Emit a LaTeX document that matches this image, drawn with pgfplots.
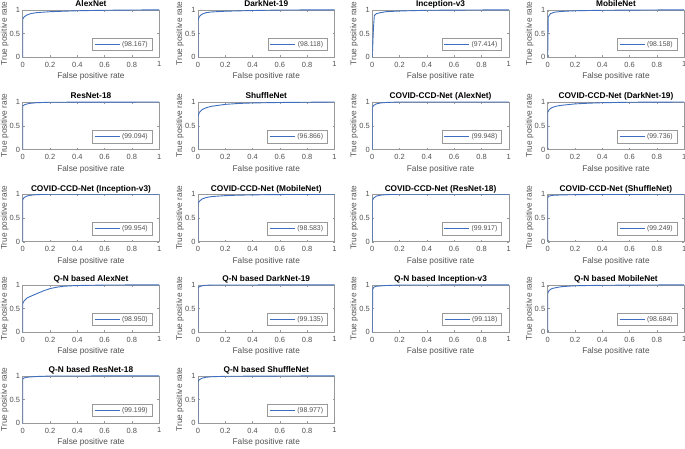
\documentclass[border=0pt]{standalone}
\usepackage{fontspec}
\setmainfont{Liberation Sans}
\usepackage{pgfplots}
\pgfplotsset{compat=1.18}
\definecolor{mblue}{RGB}{62,110,192}
\definecolor{framegray}{gray}{0.6}
\definecolor{txtgray}{gray}{0.32}
\pgfplotsset{
  roc/.style={
    scale only axis, width=136.5pt, height=47.5pt, anchor=south west,
    xmin=0, xmax=1, ymin=0, ymax=1,
    xtick={0,0.2,0.4,0.6,0.8,1}, ytick={0,0.5,1},
    xticklabels={0,0.2,0.4,0.6,0.8,1}, yticklabels={0,0.5,1},
    /pgf/number format/assume math mode=true,
    tick align=inside, major tick length=2pt,
    axis line style={framegray, line width=0.5pt}, tick style={framegray, line width=0.4pt},
    tick label style={font=\fontsize{7.5}{8}\selectfont, text=txtgray},
    xticklabel style={yshift=-1pt},
    yticklabel style={xshift=1pt},
    xlabel={False positive rate}, ylabel={True positive rate},
    every axis x label/.style={at={(axis description cs:0.5,0)}, anchor=center, yshift=-19.4pt, font=\fontsize{8.3}{9}\selectfont, text=txtgray},
    every axis y label/.style={at={(axis description cs:0,0.5)}, xshift=-18pt, rotate=90, anchor=center, font=\fontsize{8.3}{9}\selectfont, text=txtgray},
    every axis title shift=0pt,
    title style={at={(axis description cs:0.5,1)}, anchor=base, yshift=3pt, font=\bfseries\fontsize{8.3}{9}\selectfont},
    legend style={at={(rel axis cs:0.947,0.138)}, anchor=south east, draw=framegray, line width=0.4pt,
      font=\fontsize{6.9}{8}\selectfont, text=txtgray, inner xsep=2pt, inner ysep=1pt},
    legend image code/.code={\draw[#1] (0pt,0pt) -- (25pt,0pt);},
  },
  roccurve/.style={mblue, line width=0.9pt, no marks},
}
\newcommand{\roc}[5]{%
\begin{axis}[roc, at={(#1pt,#2pt)}, title={#3}]
\addplot[roccurve] coordinates {#5};
\addlegendentry{(#4)}
\end{axis}}
\begin{document}
\begin{tikzpicture}
\useasboundingbox (0,0) rectangle (685pt,448pt);
% row 1
\roc{22.7}{390.7}{AlexNet}{98.167}{(0,0) (0,0.80) (0.01,0.85) (0.03,0.89) (0.06,0.92) (0.1,0.94) (0.2,0.96) (0.4,0.98) (0.6,0.99) (1,1)}
\roc{198}{390.7}{DarkNet-19}{98.118}{(0,0) (0,0.78) (0.01,0.86) (0.03,0.91) (0.06,0.94) (0.1,0.955) (0.2,0.97) (0.4,0.985) (0.6,0.995) (1,1)}
\roc{372.3}{390.7}{Inception-v3}{97.414}{(0,0) (0.008,0.6) (0.015,0.88) (0.03,0.92) (0.06,0.94) (0.1,0.96) (0.2,0.975) (0.4,0.99) (1,1)}
\roc{547.7}{390.7}{MobileNet}{98.158}{(0,0) (0.004,0.85) (0.02,0.92) (0.05,0.95) (0.1,0.965) (0.2,0.98) (0.4,0.99) (1,1)}
% row 2
\roc{22.7}{298.5}{ResNet-18}{99.094}{(0,0) (0,0.92) (0.02,0.95) (0.05,0.97) (0.1,0.985) (0.2,0.995) (1,1)}
\roc{198}{298.5}{ShuffleNet}{96.866}{(0,0) (0,0.70) (0.01,0.78) (0.03,0.84) (0.06,0.88) (0.1,0.91) (0.2,0.95) (0.3,0.97) (0.4,0.98) (0.6,0.99) (1,1)}
\roc{372.3}{298.5}{COVID-CCD-Net (AlexNet)}{99.948}{(0,0) (0,0.88) (0.01,0.93) (0.03,0.96) (0.06,0.98) (0.1,0.99) (0.2,1) (1,1)}
\roc{547.7}{298.5}{COVID-CCD-Net (DarkNet-19)}{99.736}{(0,0) (0,0.78) (0.01,0.84) (0.03,0.88) (0.06,0.91) (0.1,0.93) (0.2,0.96) (0.3,0.975) (0.4,0.985) (0.6,0.995) (1,1)}
% row 3
\roc{22.7}{206.3}{COVID-CCD-Net (Inception-v3)}{99.954}{(0,0) (0,0.88) (0.01,0.93) (0.03,0.96) (0.06,0.98) (0.1,0.99) (0.2,1) (1,1)}
\roc{198}{206.3}{COVID-CCD-Net (MobileNet)}{98.583}{(0,0) (0,0.80) (0.01,0.85) (0.03,0.90) (0.06,0.93) (0.1,0.95) (0.2,0.97) (0.3,0.98) (0.5,0.99) (1,1)}
\roc{372.3}{206.3}{COVID-CCD-Net (ResNet-18)}{99.917}{(0,0) (0,0.86) (0.01,0.92) (0.03,0.96) (0.06,0.98) (0.1,0.99) (0.2,1) (1,1)}
\roc{547.7}{206.3}{COVID-CCD-Net (ShuffleNet)}{99.249}{(0,0) (0,0.93) (0.01,0.96) (0.03,0.975) (0.1,0.985) (0.2,0.99) (0.4,0.995) (1,1)}
% row 4
\roc{22.7}{115.7}{Q-N based AlexNet}{98.950}{(0,0) (0,0.60) (0.01,0.66) (0.03,0.72) (0.06,0.76) (0.1,0.81) (0.15,0.87) (0.2,0.92) (0.25,0.95) (0.3,0.97) (0.4,0.985) (0.6,0.995) (1,1)}
\roc{198}{115.7}{Q-N based DarkNet-19}{99.135}{(0,0) (0,0.93) (0.01,0.96) (0.03,0.98) (0.06,0.99) (0.1,0.995) (1,1)}
\roc{372.3}{115.7}{Q-N based Inception-v3}{99.118}{(0,0) (0.003,0.90) (0.01,0.95) (0.03,0.97) (0.1,0.985) (0.2,0.995) (1,1)}
\roc{547.7}{115.7}{Q-N based MobileNet}{98.684}{(0,0) (0,0.82) (0.01,0.88) (0.03,0.92) (0.06,0.94) (0.1,0.96) (0.2,0.98) (0.4,0.99) (1,1)}
% row 5
\roc{22.7}{24.7}{Q-N based ResNet-18}{99.199}{(0,0) (0,0.93) (0.01,0.955) (0.03,0.97) (0.1,0.985) (0.2,0.995) (1,1)}
\roc{198}{24.7}{Q-N based ShuffleNet}{98.977}{(0,0) (0,0.88) (0.01,0.92) (0.03,0.95) (0.06,0.97) (0.1,0.98) (0.2,0.99) (1,1)}
\end{tikzpicture}
\end{document}
